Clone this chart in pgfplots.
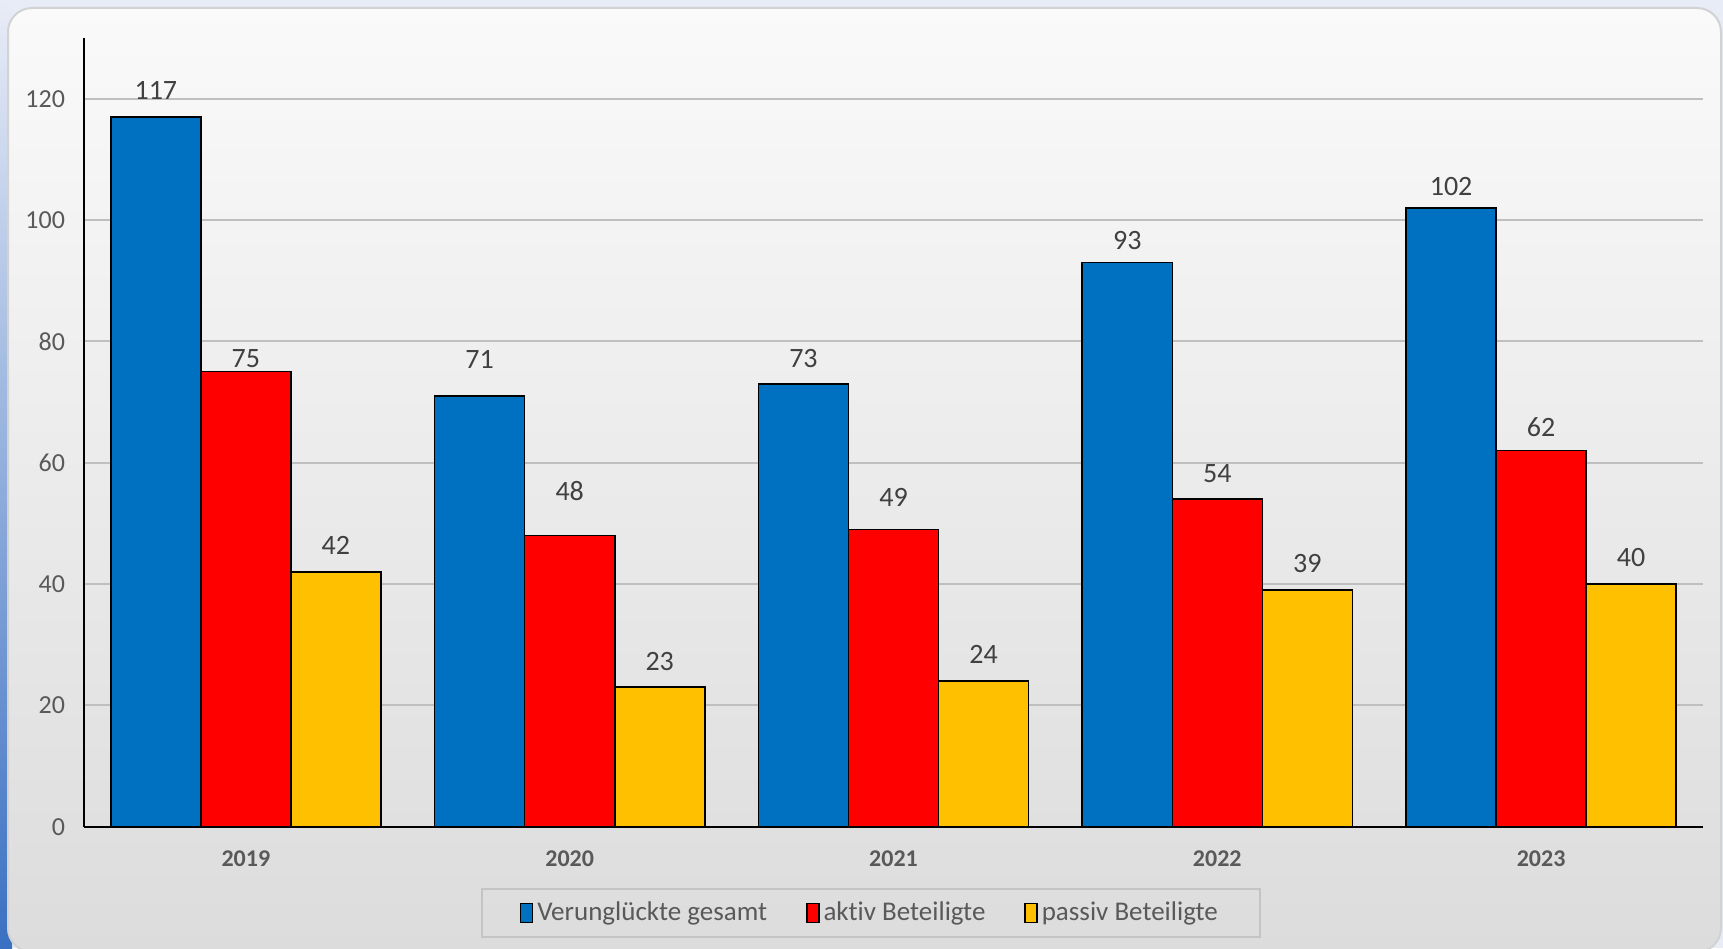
\documentclass[border=0pt]{standalone}
\usepackage{fontspec}
\setmainfont[Ligatures=NoCommon]{Carlito}
\usepackage{pgfplots}
\pgfplotsset{compat=1.18}
\usepackage{pgfplotstable}

\definecolor{cblue}{HTML}{0070C0}
\definecolor{cred}{HTML}{FF0000}
\definecolor{cyel}{HTML}{FFC000}
\definecolor{txt}{HTML}{595959}
\definecolor{lbl}{HTML}{404040}
\definecolor{gridc}{HTML}{BFBFBF}
\definecolor{outer}{HTML}{E8ECF6}
\definecolor{outerblue}{HTML}{3A70C2}
\definecolor{paneltop}{HTML}{FAFAFA}
\definecolor{panelbot}{HTML}{DCDCDC}
\definecolor{panelborder}{HTML}{D2D2D2}
\definecolor{legbord}{HTML}{C4C4C4}

\pgfplotstableread{
x v a p dv da dp
0 117 75 42 13.4 6.3 13.4
1 71 48 23 18.4 22.2 12.9
2 73 49 24 12.9 16.2 13.4
3 93 54 39 11.2 12.9 13.4
4 102 62 40 10.7 11.8 13.4
}\data

\begin{document}
\begin{tikzpicture}
\useasboundingbox (0,0) rectangle (861.5pt,474pt);
\fill[outer] (0,0) rectangle (861.5pt,474pt);
\shade[top color=outer, bottom color=outerblue] (0,0) rectangle (6pt,474pt);
\shade[top color=paneltop, bottom color=panelbot, draw=panelborder, line width=1pt, rounded corners=12pt] (4pt,-2pt) rectangle (860.5pt,470pt);
\begin{axis}[
  at={(42pt,60.65pt)}, anchor=south west,
  scale only axis, width=809.5pt, height=394.35pt,
  ymin=0, ymax=130, xmin=-0.5, xmax=4.5,
  ybar=0pt, bar width=0.278,
  axis x line=bottom, axis y line=left,
  axis line style={-, black, line width=1pt},
  ytick={0,20,...,120},
  ymajorgrids, grid style={gridc, line width=0.9pt},
  major tick length=0pt,
  xtick={0,1,2,3,4},
  xticklabels={2019,2020,2021,2022,2023},
  xticklabel style={font=\bfseries\fontsize{12}{14}\selectfont, text=txt, yshift=-8.7pt},
  yticklabel style={font=\fontsize{13}{15}\selectfont, text=txt, xshift=-6pt},
  /pgf/number format/assume math mode=true,
  nodes near coords style={font=\fontsize{14}{16}\selectfont, text=lbl},
  legend style={at={(0.486,-0.1094)}, anchor=center, legend columns=3,
    draw=legbord, line width=0.8pt, fill=none,
    font=\fontsize{13.5}{16}\selectfont, text=txt,
    inner xsep=19pt, inner ysep=4.5pt,
    /tikz/every even column/.append style={column sep=17.5pt}},
  legend cell align=left,
  legend image code/.code={\draw[#1, draw=black, line width=0.7pt] (0.5pt,-4.8pt) rectangle (6.5pt,4.8pt);},
]
\addplot[fill=cblue, draw=black, line width=0.8pt, nodes near coords,
  visualization depends on={\thisrow{dv} \as \dy},
  every node near coord/.append style={anchor=center, yshift=\dy pt}]
  table[x=x, y=v] {\data};
\addplot[fill=cred, draw=black, line width=0.8pt, nodes near coords,
  visualization depends on={\thisrow{da} \as \dy},
  every node near coord/.append style={anchor=center, yshift=\dy pt}]
  table[x=x, y=a] {\data};
\addplot[fill=cyel, draw=black, line width=0.8pt, nodes near coords,
  visualization depends on={\thisrow{dp} \as \dy},
  every node near coord/.append style={anchor=center, yshift=\dy pt}]
  table[x=x, y=p] {\data};
\legend{Verunglückte gesamt, aktiv Beteiligte, passiv Beteiligte}
\end{axis}
\end{tikzpicture}
\end{document}
